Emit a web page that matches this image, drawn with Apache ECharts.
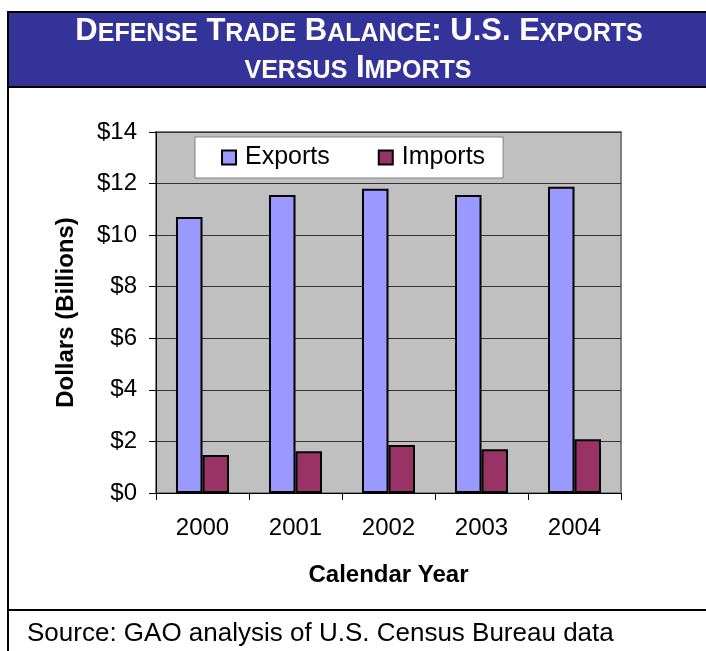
<!DOCTYPE html>
<html>
<head>
<meta charset="utf-8">
<script src="https://cdn.jsdelivr.net/npm/echarts@6/dist/echarts.min.js"></script>
<style>
  html, body { margin: 0; padding: 0; background: #fff; }
  #chart { width: 706px; height: 651px; }
</style>
</head>
<body>
<div id="chart"></div>
<script>
  const years = ["2000", "2001", "2002", "2003", "2004"]
  const exportsData = [10.7, 11.56, 11.8, 11.56, 11.88]
  const importsData = [1.47, 1.62, 1.86, 1.7, 2.08]
  const yTicks = { min: 0, max: 14, interval: 2 }

  const chart = echarts.init(document.getElementById("chart"))

  const font = "Arial, 'Liberation Sans', sans-serif"

  // fake small caps for the banner title
  const bigCap = { fontSize: 31, fontWeight: "bold", fontFamily: font, fill: "#fff", verticalAlign: "bottom", lineHeight: 31 }
  const smallCap = { fontSize: 25, fontWeight: "bold", fontFamily: font, fill: "#fff", verticalAlign: "bottom", lineHeight: 31 }

  const option = {
    backgroundColor: "#fff",
    animation: false,
    graphic: [
      {
        type: "rect",
        shape: { x: 8, y: 12, width: 700, height: 75 },
        style: { fill: "#333399", stroke: "#000", lineWidth: 2 },
      },
      {
        type: "line",
        shape: { x1: 8, y1: 12, x2: 8, y2: 651 },
        style: { stroke: "#000", lineWidth: 2 },
      },
      {
        type: "line",
        shape: { x1: 8, y1: 610, x2: 706, y2: 610 },
        style: { stroke: "#000", lineWidth: 2 },
      },
      {
        type: "text",
        x: 359,
        y: 47,
        style: {
          text: "{b|D}{s|EFENSE}{b| T}{s|RADE}{b| B}{s|ALANCE}{b|: U.S. E}{s|XPORTS}",
          align: "center",
          verticalAlign: "bottom",
          fill: "#fff",
          rich: { b: bigCap, s: smallCap },
        },
      },
      {
        type: "text",
        x: 358,
        y: 84,
        style: {
          text: "{s|VERSUS}{b| I}{s|MPORTS}",
          align: "center",
          verticalAlign: "bottom",
          fill: "#fff",
          rich: { b: bigCap, s: smallCap },
        },
      },
      {
        type: "text",
        x: 27,
        y: 634,
        style: {
          text: "Source: GAO analysis of U.S. Census Bureau data",
          fontSize: 26,
          fontFamily: font,
          fill: "#000",
          verticalAlign: "middle",
        },
      },
    ],
    legend: {
      data: ["Exports", "Imports"],
      left: 195,
      top: 137,
      orient: "horizontal",
      backgroundColor: "#fff",
      borderColor: "#808080",
      borderWidth: 1,
      padding: [8, 18, 8, 26],
      itemGap: 48,
      itemWidth: 14,
      itemHeight: 14,
      icon: "rect",
      textStyle: { fontSize: 25, fontFamily: font, color: "#000", padding: [0, 0, 0, 4] },
    },
    grid: {
      left: 156,
      right: 85,
      top: 132,
      bottom: 158,
      show: true,
      backgroundColor: "#C0C0C0",
      borderColor: "#808080",
      borderWidth: 2,
    },
    xAxis: {
      type: "category",
      data: years,
      name: "Calendar Year",
      nameLocation: "middle",
      nameGap: 70,
      nameTextStyle: { fontSize: 24, fontWeight: "bold", fontFamily: font, color: "#000" },
      axisLine: { lineStyle: { color: "#000", width: 1 } },
      axisTick: { show: true, length: 7, lineStyle: { color: "#000" } },
      axisLabel: { fontSize: 24, fontFamily: font, color: "#000", margin: 23 },
    },
    yAxis: {
      type: "value",
      min: yTicks.min,
      max: yTicks.max,
      interval: yTicks.interval,
      name: "Dollars (Billions)",
      nameLocation: "middle",
      nameGap: 78,
      nameTextStyle: { fontSize: 24, fontWeight: "bold", fontFamily: font, color: "#000" },
      axisLine: { show: true, lineStyle: { color: "#000", width: 1 } },
      axisTick: { show: true, length: 7, lineStyle: { color: "#000" } },
      axisLabel: {
        fontSize: 24,
        fontFamily: font,
        color: "#000",
        margin: 19,
        formatter: (v) => "$" + v,
      },
      splitLine: { show: true, lineStyle: { color: "#333", width: 1 } },
    },
    series: [
      {
        name: "Exports",
        type: "bar",
        data: exportsData,
        barGap: "0%",
        barCategoryGap: "43%",
        itemStyle: { color: "#9999FF", borderColor: "#000", borderWidth: 2 },
      },
      {
        name: "Imports",
        type: "bar",
        data: importsData,
        itemStyle: { color: "#993366", borderColor: "#000", borderWidth: 2 },
      },
    ],
  }

  chart.setOption(option)
</script>
</body>
</html>
